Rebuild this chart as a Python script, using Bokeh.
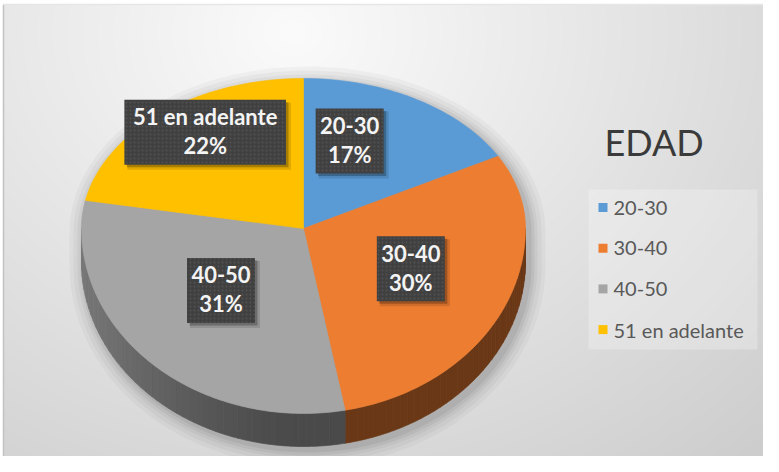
import numpy as np
from bokeh.plotting import figure
from bokeh.models import Range1d
from bokeh.core.properties import value
from bokeh.embed import file_html
from bokeh.resources import INLINE

# ---------------- data ----------------
categories = ["20-30", "30-40", "40-50", "51 en adelante"]
percent = [17, 30, 31, 22]
colors = ["#5B9BD5", "#ED7D31", "#A5A5A5", "#FFC000"]
chart_title = "EDAD"

# ---------------- layout ----------------
W, H = 763, 456
PAGE_H = 472


def Y(py):
    """page pixel row -> data y"""
    return PAGE_H - np.asarray(py, dtype=float)


p = figure(width=W, height=H, x_range=Range1d(8, 8 + W), y_range=Range1d(8, 8 + H),
           output_backend="svg", toolbar_location=None, min_border=0)
p.axis.visible = False
p.grid.visible = False
p.outline_line_color = None
p.background_fill_color = "white"
p.border_fill_color = "white"

# background gradient of chart area
bx0, by0, bx1, by1 = 11, 12, 780, 470
bw, bh = bx1 - bx0, by1 - by0
gx = np.arange(bw) + bx0 + 0.5
gy = by1 - (np.arange(bh) + 0.5)
XX, YY = np.meshgrid(gx, gy)
dist = np.sqrt(((XX - 300) / 600.0) ** 2 + ((YY - 40) / 500.0) ** 2)
g = np.clip(251 - 40 * dist, 205, 251).astype(np.uint32)
img = (np.uint32(255) << np.uint32(24)) | (g << np.uint32(16)) | (g << np.uint32(8)) | g
p.image_rgba(image=[img], x=bx0, y=float(Y(by1)), dw=bw, dh=bh)
p.line(x=[11, 11], y=Y([12, 470]), line_color="#c2c2c2", line_width=1.5)
p.line(x=[11, 780], y=Y([12, 12]), line_color="#e6e6e6", line_width=1.5)

# pie geometry (pseudo-perspective ellipse)
CX, CY, RX, RYB, RYF, DEPTH = 311, 236, 222, 150, 185, 33


def pie_xy(theta_deg, r=1.0, ex=0.0):
    t = np.radians(np.asarray(theta_deg, dtype=float))
    c = np.cos(t)
    ry = np.where(c > 0, RYB, RYF) + ex
    return CX + r * (RX + ex) * np.sin(t), CY - r * ry * c


def shade(hexcol, f):
    h = hexcol.lstrip("#")
    r, g_, b = (int(h[i:i + 2], 16) for i in (0, 2, 4))
    return "#%02x%02x%02x" % (min(255, int(r * f)), min(255, int(g_ * f)), min(255, int(b * f)))


total = float(sum(percent))
cum = np.concatenate([[0.0], np.cumsum(percent)]) / total * 360.0

# soft shadow under the pie
for ex, al in [(16, 0.03), (12, 0.035), (8, 0.04), (5, 0.05), (2, 0.06)]:
    tb = np.linspace(-90, 90, 91)
    tf = np.linspace(90, 270, 91)
    xb, yb = pie_xy(tb, ex=ex)
    xf, yf = pie_xy(tf, ex=ex)
    sx = np.concatenate([xb, xf]) + 4
    sy = np.concatenate([yb, yf + DEPTH]) + 4
    p.patch(sx, Y(sy), fill_color="black", fill_alpha=al, line_color=None)

# sides (front half only)
side_xs, side_ys, side_cols = [], [], []
for i in range(len(percent)):
    a0, a1 = max(cum[i], 90.0), min(cum[i + 1], 270.0)
    if a1 <= a0:
        continue
    edges = np.append(np.arange(a0, a1, 2.0), a1)
    for s, e in zip(edges[:-1], edges[1:]):
        th = np.linspace(s, e, 4)
        x, y = pie_xy(th)
        side_xs.append(np.concatenate([x, x[::-1]]))
        side_ys.append(Y(np.concatenate([y, (y + DEPTH)[::-1]])))
        m = np.radians((s + e) / 2)
        f = 0.45 + 0.28 * max(0.0, -np.sin(m)) ** 1.5
        side_cols.append(shade(colors[i], f))
p.patches(side_xs, side_ys, fill_color=side_cols, line_color=side_cols, line_width=0.7)

# top faces
top_xs, top_ys = [], []
for i in range(len(percent)):
    th = np.linspace(cum[i], cum[i + 1], int(cum[i + 1] - cum[i]) + 2)
    x, y = pie_xy(th)
    top_xs.append(np.concatenate([[CX], x]))
    top_ys.append(Y(np.concatenate([[CY], y])))
p.patches(top_xs, top_ys, fill_color=colors, line_color=colors, line_width=0.6)

# data labels
label_shift = np.array([-11, -1, 3, 5], dtype=float)
label_r = np.array([0.62, 0.53, 0.50, 0.78])
mid = (cum[:-1] + cum[1:]) / 2 + label_shift
lx, ly = pie_xy(mid, r=label_r)
ly = Y(ly)
texts = [f"{c}\n{v}%" for c, v in zip(categories, percent)]
bw_ = [max(len(c), 4) * 10.4 + 16 for c in categories]
bh_ = [65] * len(categories)
p.rect(x=lx + 4, y=ly - 4, width=[w + 2 for w in bw_], height=[h + 2 for h in bh_],
       fill_color="black", fill_alpha=0.12, line_color=None)
p.rect(x=lx + 2.5, y=ly - 2.5, width=bw_, height=bh_,
       fill_color="black", fill_alpha=0.25, line_color=None)
p.rect(x=lx, y=ly, width=bw_, height=bh_, fill_color="#404040", line_color=None,
       hatch_pattern="dot", hatch_color="#5e5e5e", hatch_alpha=0.6, hatch_scale=4, hatch_weight=1)
p.text(x=lx, y=ly + 1, text=texts, text_align="center", text_baseline="middle",
       text_font=value("Lato"), text_font_style="bold", text_font_size="22px",
       text_color="#f4f4f4", text_line_height=1.07)

# title
p.text(x=[612], y=Y([149]), text=[chart_title], text_align="left", text_baseline="alphabetic",
       text_font=value("Lato"), text_font_size="36px", text_color="#3a3a3a")

# legend (drawn manually)
LEG_X, LEG_Y0, LEG_DY = 610.5, 215, 40.7
leg_y = Y([LEG_Y0 + i * LEG_DY for i in range(len(categories))])
p.rect(x=[680.5], y=Y([277]), width=169, height=160, fill_color="white", fill_alpha=0.25, line_color=None)
p.rect(x=[LEG_X] * len(categories), y=leg_y, width=9, height=9, fill_color=colors, line_color=None)
p.text(x=[621] * len(categories), y=leg_y, text=categories, text_align="left", text_baseline="middle",
       text_font=value("Lato"), text_font_size="20px", text_color="#595959")

open("out.html", "w").write(file_html(p, INLINE))
